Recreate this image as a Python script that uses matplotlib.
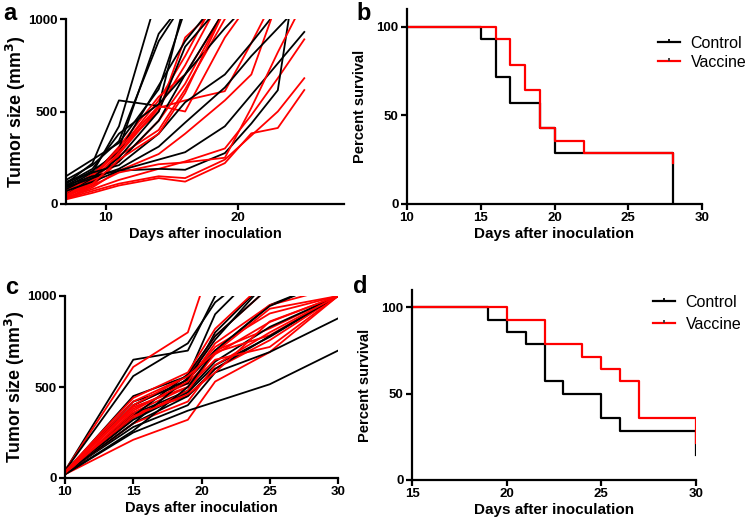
import matplotlib
matplotlib.use("Agg")
import matplotlib.pyplot as plt
from matplotlib.lines import Line2D

plt.rcParams['font.family'] = ['Liberation Sans', 'DejaVu Sans']

# ---- tumor growth, experiment 1 (panel a) ----
days_a = [7, 9, 11, 14, 16, 19, 21, 23, 25]
a_control = [
    [90, 170, 420, 1150],
    [110, 220, 560, 530, 1100],
    [130, 210, 340, 880, 1100],
    [70, 160, 300, 920, 1100],
    [150, 240, 330, 620, 1050],
    [100, 180, 280, 640, 880, 1150],
    [60, 140, 250, 500, 850, 1100],
    [80, 150, 230, 450, 700, 950, 1100],
    [120, 170, 210, 380, 550, 700, 870, 1050],
    [90, 140, 190, 310, 440, 630, 800, 950, 1100],
    [100, 150, 180, 190, 185, 275, 435, 615, 1550],
    [70, 120, 180, 240, 280, 420, 590, 760, 930],
    [110, 190, 380, 540, 700, 1050],
]
a_vaccine = [
    [50, 140, 290, 560, 800, 1200],
    [40, 120, 270, 520, 750, 1150],
    [60, 150, 310, 580, 700, 1050],
    [30, 100, 230, 450, 650, 1050],
    [70, 160, 300, 500, 900, 1100],
    [50, 130, 260, 400, 620, 1000],
    [45, 120, 280, 520, 560, 610, 870, 1150],
    [60, 150, 300, 530, 500, 900, 1100],
    [30, 90, 180, 270, 380, 560, 700, 1100],
    [35, 80, 130, 190, 230, 300, 480, 680, 890],
    [30, 70, 110, 150, 140, 240, 370, 500, 680],
    [25, 60, 100, 140, 121, 221, 382, 411, 616],
    [45, 100, 170, 215, 225, 250, 520, 820, 1100],
    [40, 110, 240, 380, 600, 1050],
]

# ---- survival, experiment 1 (panel b) ----
b_ctrl_t = [10, 15, 16, 17, 19, 20, 28]
b_ctrl_s = [100, 92.9, 71.4, 57.1, 42.9, 28.6, 0]
b_vac_t = [10, 16, 17, 18, 19, 20, 22, 28]
b_vac_s = [100, 92.9, 78.6, 64.3, 42.9, 35.7, 28.6, 23]

# ---- tumor growth, experiment 2 (panel c) ----
days_c = [10, 15, 19, 21, 25, 30]
c_control = [
    [40, 650, 700, 1000, 1200],
    [40, 560, 740, 965, 1200],
    [30, 450, 560, 900, 1200],
    [35, 420, 520, 800, 1100],
    [30, 400, 540, 700, 950, 1100],
    [25, 350, 480, 640, 830, 1000],
    [25, 320, 470, 620, 775, 1000],
    [20, 300, 450, 600, 780, 1000],
    [30, 280, 400, 580, 692, 877],
    [20, 250, 370, 418, 515, 700],
    [30, 340, 570, 780, 1050],
    [25, 300, 550, 760, 1100],
    [20, 260, 500, 700, 945, 1100],
]
c_vaccine = [
    [40, 610, 800, 1250],
    [30, 400, 540, 720, 904, 1000],
    [35, 380, 520, 680, 857, 1000],
    [25, 360, 500, 700, 822, 1000],
    [30, 420, 560, 780, 1050],
    [20, 330, 480, 690, 784, 1000],
    [25, 350, 450, 600, 757, 1000],
    [20, 210, 320, 530, 692, 1000],
    [30, 390, 500, 650, 720, 1000],
    [25, 300, 420, 620, 800, 1000],
    [35, 440, 580, 820, 1100],
    [20, 370, 530, 740, 950, 1050],
    [30, 340, 460, 580, 860, 1000],
    [25, 400, 560, 690, 930, 1000],
]

# ---- survival, experiment 2 (panel d) ----
d_ctrl_t = [15, 19, 20, 21, 22, 23, 25, 26, 30]
d_ctrl_s = [100, 92.9, 85.7, 78.6, 57.1, 50, 35.7, 28.6, 14.3]
d_vac_t = [15, 20, 22, 24, 25, 26, 27, 30]
d_vac_s = [100, 92.9, 78.6, 71.4, 64.3, 57.1, 35.7, 21.4]

RED = '#ff0000'
W, H = 750, 526


def box(l, r, top, bot):
    return [l / W, (H - bot) / H, (r - l) / W, (bot - top) / H]


def style(ax):
    for s in ['top', 'right']:
        ax.spines[s].set_visible(False)
    for s in ['left', 'bottom']:
        ax.spines[s].set_linewidth(1.6)
    ax.tick_params(width=1.6, length=4, labelsize=9.5, pad=2)
    for lab in ax.get_xticklabels() + ax.get_yticklabels():
        lab.set_fontweight('bold')


def tumor(ax, days, ctrl, vac, xlim, xticks):
    n = max(len(ctrl), len(vac))
    for i in range(n):
        if i < len(ctrl):
            v = ctrl[i]
            ax.plot(days[:len(v)], v, color='k', lw=1.3)
        if i < len(vac):
            v = vac[i]
            ax.plot(days[:len(v)], v, color=RED, lw=1.3)
    ax.set_xlim(*xlim)
    ax.set_ylim(0, 1000)
    ax.set_xticks(xticks)
    ax.set_yticks([0, 500, 1000])
    ax.set_xlabel('Days after inoculation', fontsize=10.5, fontweight='bold', labelpad=2)
    ax.set_ylabel('Tumor size (mm$^\\mathbf{3}$)', fontsize=12.8, fontweight='bold', labelpad=0)
    style(ax)


def survival(ax, ct, cs, vt, vs, xlim, xticks, leg_xy, spacing):
    ax.step(ct, cs, where='post', color='k', lw=1.6)
    ax.step(vt, vs, where='post', color=RED, lw=1.6)
    ax.set_xlim(*xlim)
    ax.set_ylim(0, 110)
    ax.set_xticks(xticks)
    ax.set_yticks([0, 50, 100])
    ax.set_xlabel('Days after inoculation', fontsize=11, fontweight='bold', labelpad=2)
    ax.set_ylabel('Percent survival', fontsize=10.5, fontweight='bold', labelpad=7)
    style(ax)
    handles = [
        Line2D([], [], color='k', lw=1.6, marker=2, markersize=2.5, markeredgewidth=1.3,
               markeredgecolor='k'),
        Line2D([], [], color=RED, lw=1.6, marker=2, markersize=2.5, markeredgewidth=1.3,
               markeredgecolor='#333333'),
    ]
    ax.legend(handles, ['Control', 'Vaccine'], loc='upper left',
              bbox_to_anchor=leg_xy, bbox_transform=ax.figure.transFigure,
              frameon=False, fontsize=11.5, handlelength=1.35, handletextpad=0.7,
              labelspacing=spacing, borderaxespad=0, borderpad=0)


fig = plt.figure(figsize=(7.5, 5.26), dpi=100)

ax_a = fig.add_axes(box(66, 344, 19, 204))
tumor(ax_a, days_a, a_control, a_vaccine, (7, 28), [10, 20])

ax_b = fig.add_axes(box(407, 702, 9, 204))
survival(ax_b, b_ctrl_t, b_ctrl_s, b_vac_t, b_vac_s, (10, 30), [10, 15, 20, 25, 30],
         (658 / W, 1 - 36 / H), 0.24)

ax_c = fig.add_axes(box(65, 338, 296, 478))
tumor(ax_c, days_c, c_control, c_vaccine, (10, 30), [10, 15, 20, 25, 30])

ax_d = fig.add_axes(box(412, 696, 290, 480))
survival(ax_d, d_ctrl_t, d_ctrl_s, d_vac_t, d_vac_s, (15, 30), [15, 20, 25, 30],
         (653 / W, 1 - 295 / H), 0.44)

for letter, x, y in [('a', 3, 2), ('b', 356, 2), ('c', 5, 276), ('d', 353, 275)]:
    fig.text(x / W, 1 - y / H, letter, fontsize=17, fontweight='bold', va='top', ha='left')

fig.savefig('out.png', dpi=100)
